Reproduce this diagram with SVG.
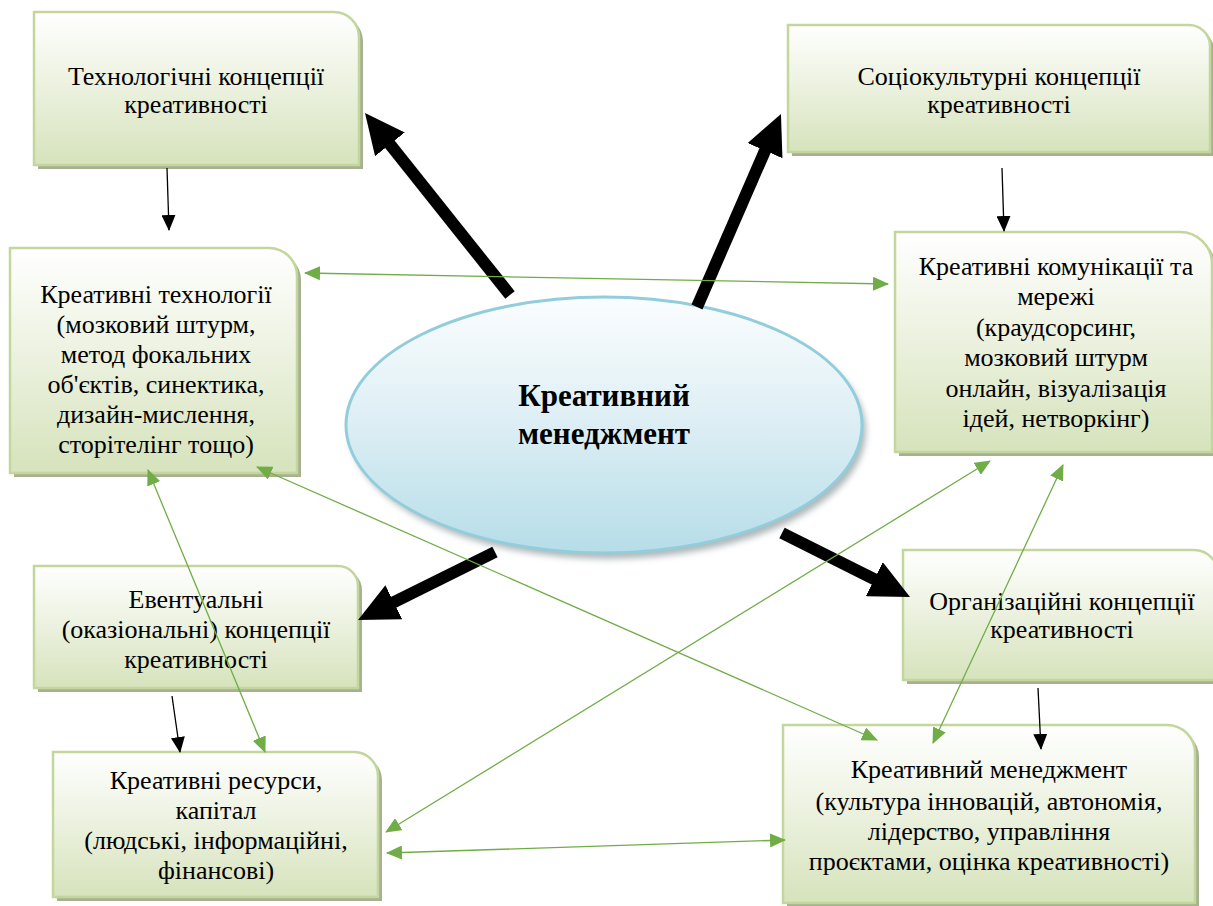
<svg xmlns="http://www.w3.org/2000/svg" width="1213" height="906" viewBox="0 0 1213 906">
<style>
.box{fill:url(#gGreen);stroke:#C3D69B;stroke-width:2.5}
.sh{fill:#A7B191;stroke:none}
.t{font-family:"Liberation Serif","Times New Roman",serif;font-size:26px;fill:#000;text-anchor:middle}
.tb{font-family:"Liberation Serif","Times New Roman",serif;font-size:31px;font-weight:bold;fill:#000;text-anchor:middle}
.thick{stroke:#000;stroke-width:12;fill:none;marker-end:url(#mThick)}
.thin{stroke:#000;stroke-width:1.3;fill:none;marker-end:url(#mThin)}
.grn{stroke:#70AD47;stroke-width:1.3;fill:none;marker-start:url(#mGreen);marker-end:url(#mGreen)}
</style>
<defs>
<linearGradient id="gGreen" x1="0" y1="0" x2="0" y2="1">
<stop offset="0" stop-color="#FFFFFF"/>
<stop offset="0.5" stop-color="#EBF1DE"/>
<stop offset="1" stop-color="#D6E3BC"/>
</linearGradient>
<linearGradient id="gBlue" x1="0" y1="0" x2="0" y2="1">
<stop offset="0" stop-color="#FBFDFE"/>
<stop offset="0.5" stop-color="#DCEEF4"/>
<stop offset="1" stop-color="#B6DDE8"/>
</linearGradient>
<filter id="blur" x="-10%" y="-10%" width="120%" height="120%"><feGaussianBlur stdDeviation="3"/></filter>
<marker id="mThick" markerUnits="userSpaceOnUse" viewBox="0 0 40 38" markerWidth="40" markerHeight="38" refX="10" refY="19" orient="auto"><path d="M0,0 L40,19 L0,38 Z" fill="#000"/></marker>
<marker id="mThin" markerUnits="userSpaceOnUse" viewBox="0 0 16 14" markerWidth="16" markerHeight="14" refX="15" refY="7" orient="auto"><path d="M0,0 L16,7 L0,14 Z" fill="#000"/></marker>
<marker id="mGreen" markerUnits="userSpaceOnUse" viewBox="0 0 16 14" markerWidth="16" markerHeight="14" refX="15" refY="7" orient="auto-start-reverse"><path d="M0,0 L16,7 L0,14 Z" fill="#70AD47"/></marker>
</defs>
<rect width="1213" height="906" fill="#FFFFFF"/>

<g id="n-tech-concepts">
<path class="sh" transform="translate(4,4)" d="M34,12 H334 A25,25 0 0 1 359,37 V165 H34 Z"/>
<path class="box" d="M34,12 H334 A25,25 0 0 1 359,37 V165 H34 Z"/>
<text class="t" x="196" y="85">Технологічні концепції</text>
<text class="t" x="196" y="113">креативності</text>
</g>

<g id="n-socio-concepts">
<path class="sh" transform="translate(4,4)" d="M788,25 H1189 A21,21 0 0 1 1210,46 V152 H788 Z"/>
<path class="box" d="M788,25 H1189 A21,21 0 0 1 1210,46 V152 H788 Z"/>
<text class="t" x="999" y="85">Соціокультурні концепції</text>
<text class="t" x="999" y="113">креативності</text>
</g>

<g id="n-tech">
<path class="sh" transform="translate(4,4)" d="M10,248 H269 A28,28 0 0 1 297,276 V473 H10 Z"/>
<path class="box" d="M10,248 H269 A28,28 0 0 1 297,276 V473 H10 Z"/>
<text class="t" x="156" y="303">Креативні технології</text>
<text class="t" x="156" y="333">(мозковий штурм,</text>
<text class="t" x="156" y="363">метод фокальних</text>
<text class="t" x="156" y="393">об'єктів, синектика,</text>
<text class="t" x="156" y="423">дизайн-мислення,</text>
<text class="t" x="156" y="453">сторітелінг тощо)</text>
</g>

<g id="n-comm">
<path class="sh" transform="translate(4,4)" d="M895,232 H1180 A32,32 0 0 1 1212,264 V452 H895 Z"/>
<path class="box" d="M895,232 H1180 A32,32 0 0 1 1212,264 V452 H895 Z"/>
<text class="t" x="1056" y="275">Креативні комунікації та</text>
<text class="t" x="1056" y="305">мережі</text>
<text class="t" x="1056" y="336">(краудсорсинг,</text>
<text class="t" x="1056" y="366">мозковий штурм</text>
<text class="t" x="1056" y="397">онлайн, візуалізація</text>
<text class="t" x="1056" y="427">ідей, нетворкінг)</text>
</g>

<g id="n-center">
<ellipse cx="608" cy="431" rx="258" ry="128" fill="#8E9A9E" opacity="0.7" filter="url(#blur)"/>
<ellipse cx="604" cy="425" rx="258" ry="128" fill="url(#gBlue)" stroke="#92CDDC" stroke-width="3"/>
<text class="tb" x="604" y="406">Креативний</text>
<text class="tb" x="604" y="444">менеджмент</text>
</g>

<g id="n-event">
<path class="sh" transform="translate(4,4)" d="M34,566 H338 A20,20 0 0 1 358,586 V688 H34 Z"/>
<path class="box" d="M34,566 H338 A20,20 0 0 1 358,586 V688 H34 Z"/>
<text class="t" x="196" y="608">Евентуальні</text>
<text class="t" x="196" y="638">(оказіональні) концепції</text>
<text class="t" x="196" y="668">креативності</text>
</g>

<g id="n-org">
<path class="sh" transform="translate(4,4)" d="M903,550 H1194 A24,24 0 0 1 1218,574 V680 H903 Z"/>
<path class="box" d="M903,550 H1194 A24,24 0 0 1 1218,574 V680 H903 Z"/>
<text class="t" x="1062" y="610">Організаційні концепції</text>
<text class="t" x="1062" y="638">креативності</text>
</g>

<g id="n-resources">
<path class="sh" transform="translate(4,4)" d="M53,752 H354 A24,24 0 0 1 378,776 V897 H53 Z"/>
<path class="box" d="M53,752 H354 A24,24 0 0 1 378,776 V897 H53 Z"/>
<text class="t" x="216" y="789">Креативні ресурси,</text>
<text class="t" x="216" y="819">капітал</text>
<text class="t" x="216" y="849">(людські, інформаційні,</text>
<text class="t" x="216" y="879">фінансові)</text>
</g>

<g id="n-management">
<path class="sh" transform="translate(4,4)" d="M783,725 H1167 A28,28 0 0 1 1195,753 V903 H783 Z"/>
<path class="box" d="M783,725 H1167 A28,28 0 0 1 1195,753 V903 H783 Z"/>
<text class="t" x="989" y="778">Креативний менеджмент</text>
<text class="t" x="989" y="810">(культура інновацій, автономія,</text>
<text class="t" x="989" y="840">лідерство, управління</text>
<text class="t" x="989" y="870">проєктами, оцінка креативності)</text>
</g>

<g id="connectors">
<line class="thick" x1="510" y1="295" x2="383.7" y2="136.5"/>
<line class="thick" x1="697" y1="307" x2="769" y2="141.5"/>
<line class="thick" x1="495" y1="552" x2="384.9" y2="606.7"/>
<line class="thick" x1="782" y1="533" x2="883.2" y2="583.6"/>
<line class="thin" x1="167" y1="168" x2="169" y2="230"/>
<line class="thin" x1="1002" y1="168" x2="1004" y2="231"/>
<line class="thin" x1="172" y1="696" x2="180" y2="752"/>
<line class="thin" x1="1038" y1="688" x2="1041" y2="749"/>
<line class="grn" x1="305" y1="273" x2="888" y2="284"/>
<line class="grn" x1="257" y1="467" x2="877" y2="740"/>
<line class="grn" x1="148" y1="470" x2="265" y2="752"/>
<line class="grn" x1="990" y1="461" x2="386" y2="832"/>
<line class="grn" x1="1063" y1="465" x2="933" y2="743"/>
<line class="grn" x1="387" y1="853" x2="785" y2="840"/>
</g>
</svg>
